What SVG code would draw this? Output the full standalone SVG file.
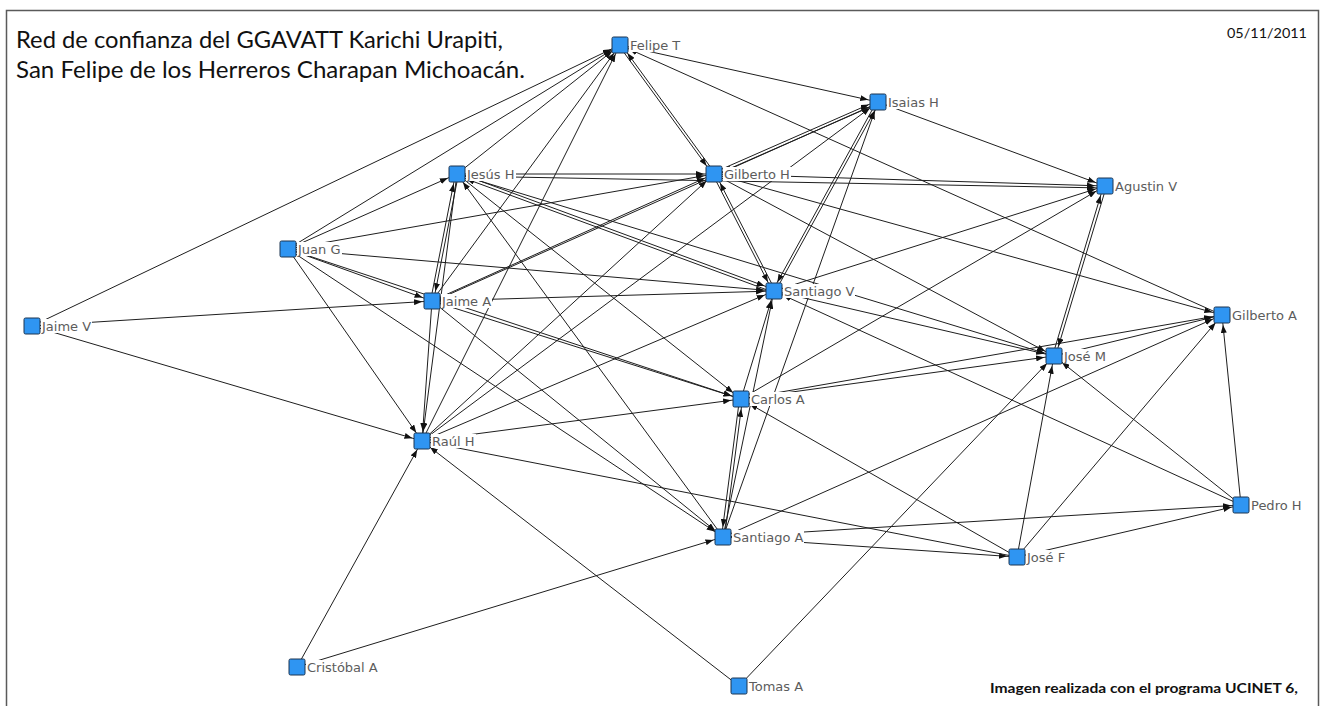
<svg xmlns="http://www.w3.org/2000/svg" width="1323" height="706" viewBox="0 0 1323 706">
<style>
.e{stroke:#1e1e1e;stroke-width:1;fill:none;marker-end:url(#ah)}
.sq{fill:#2f95f2;stroke:#1d3550;stroke-width:1}
.lb{fill:#ffffff}
.lt{font-family:"DejaVu Sans",Verdana,sans-serif;font-size:13px;fill:#5c5c5c}
.tt{font-family:Lato,"Liberation Sans",sans-serif;font-size:23px;fill:#111}
.sm{font-family:Lato,"Liberation Sans",sans-serif;font-size:14px;fill:#111}
</style>
<defs>
<marker id="ah" viewBox="0 0 8 6" refX="18" refY="3" markerWidth="8" markerHeight="6" markerUnits="userSpaceOnUse" orient="auto"><path d="M0,0L8,3L0,6z" fill="#111"/></marker>
</defs>
<rect x="0" y="0" width="1323" height="706" fill="#ffffff"/>
<path d="M6.5,706V10.5H1318.5V706" fill="none" stroke="#5a5a5a" stroke-width="1.5"/>
<g id="texts">
<text class="tt" x="16" y="48" textLength="487" lengthAdjust="spacingAndGlyphs">Red de confianza del GGAVATT Karichi Urapiti,</text>
<text class="tt" x="16" y="78" textLength="509" lengthAdjust="spacingAndGlyphs">San Felipe de los Herreros Charapan Michoacán.</text>
<text class="sm" x="1227" y="38" textLength="80" lengthAdjust="spacingAndGlyphs">05/11/2011</text>
<text class="sm" x="990" y="693" font-weight="bold" textLength="308" lengthAdjust="spacingAndGlyphs">Imagen realizada con el programa UCINET 6,</text>
</g>
<g id="connectors">
<line class="e" x1="32" y1="326" x2="620" y2="45"/>
<line class="e" x1="32" y1="326" x2="432" y2="301"/>
<line class="e" x1="288" y1="249" x2="620" y2="45"/>
<line class="e" x1="288" y1="249" x2="457" y2="174"/>
<line class="e" x1="288" y1="249" x2="714" y2="174"/>
<line class="e" x1="288" y1="249" x2="774" y2="291"/>
<line class="e" x1="288" y1="249" x2="432" y2="301"/>
<line class="e" x1="288" y1="249" x2="741" y2="399"/>
<line class="e" x1="288" y1="249" x2="422" y2="441"/>
<line class="e" x1="288" y1="249" x2="723" y2="537"/>
<line class="e" x1="457" y1="174" x2="620" y2="45"/>
<line class="e" x1="457" y1="174" x2="714" y2="174"/>
<line class="e" x1="457" y1="176" x2="1105" y2="188"/>
<line class="e" x1="457" y1="174" x2="422" y2="441"/>
<line class="e" x1="457" y1="174" x2="1054" y2="356"/>
<line class="e" x1="457" y1="174" x2="741" y2="399"/>
<line class="e" x1="723" y1="537" x2="457" y2="174"/>
<line class="e" x1="432" y1="301" x2="620" y2="45"/>
<line class="e" x1="432" y1="301" x2="714" y2="174"/>
<line class="e" x1="432" y1="302" x2="878" y2="103"/>
<line class="e" x1="432" y1="301" x2="774" y2="291"/>
<line class="e" x1="432" y1="301" x2="741" y2="399"/>
<line class="e" x1="432" y1="301" x2="422" y2="441"/>
<line class="e" x1="432" y1="301" x2="723" y2="537"/>
<line class="e" x1="422" y1="441" x2="620" y2="45"/>
<line class="e" x1="422" y1="441" x2="714" y2="174"/>
<line class="e" x1="422" y1="441" x2="878" y2="102"/>
<line class="e" x1="422" y1="441" x2="774" y2="291"/>
<line class="e" x1="422" y1="441" x2="741" y2="399"/>
<line class="e" x1="297" y1="667" x2="422" y2="441"/>
<line class="e" x1="739" y1="686" x2="422" y2="441"/>
<line class="e" x1="620" y1="45" x2="878" y2="102"/>
<line class="e" x1="1222" y1="315" x2="620" y2="45"/>
<line class="e" x1="714" y1="174" x2="1105" y2="186"/>
<line class="e" x1="714" y1="174" x2="1222" y2="315"/>
<line class="e" x1="714" y1="174" x2="1054" y2="356"/>
<line class="e" x1="723" y1="537" x2="878" y2="102"/>
<line class="e" x1="878" y1="102" x2="1105" y2="186"/>
<line class="e" x1="774" y1="291" x2="1105" y2="186"/>
<line class="e" x1="774" y1="291" x2="1054" y2="356"/>
<line class="e" x1="1241" y1="505" x2="774" y2="291"/>
<line class="e" x1="741" y1="399" x2="774" y2="291"/>
<line class="e" x1="741" y1="399" x2="1105" y2="186"/>
<line class="e" x1="741" y1="399" x2="1054" y2="356"/>
<line class="e" x1="741" y1="399" x2="1222" y2="315"/>
<line class="e" x1="1017" y1="557" x2="741" y2="399"/>
<line class="e" x1="723" y1="537" x2="774" y2="291"/>
<line class="e" x1="723" y1="537" x2="1222" y2="315"/>
<line class="e" x1="723" y1="537" x2="1241" y2="505"/>
<line class="e" x1="723" y1="537" x2="1017" y2="557"/>
<line class="e" x1="297" y1="667" x2="723" y2="537"/>
<line class="e" x1="739" y1="686" x2="1054" y2="356"/>
<line class="e" x1="1017" y1="557" x2="1054" y2="356"/>
<line class="e" x1="1017" y1="557" x2="1222" y2="315"/>
<line class="e" x1="1017" y1="557" x2="1241" y2="505"/>
<line class="e" x1="1241" y1="505" x2="1222" y2="315"/>
<line class="e" x1="1241" y1="505" x2="1054" y2="356"/>
<line class="e" x1="1054" y1="356" x2="1222" y2="315"/>
<line class="e" x1="32" y1="326" x2="422" y2="441"/>
<line class="e" x1="1017" y1="557" x2="422" y2="441"/>
<line class="e" x1="430.5" y1="301" x2="455.5" y2="174"/>
<line class="e" x1="458.5" y1="174" x2="433.5" y2="301"/>
<line class="e" x1="457" y1="172.5" x2="774" y2="289.5"/>
<line class="e" x1="774" y1="292.5" x2="457" y2="175.5"/>
<line class="e" x1="618.5" y1="45" x2="712.5" y2="174"/>
<line class="e" x1="715.5" y1="174" x2="621.5" y2="45"/>
<line class="e" x1="714" y1="172.5" x2="878" y2="100.5"/>
<line class="e" x1="878" y1="103.5" x2="714" y2="175.5"/>
<line class="e" x1="712.5" y1="174" x2="772.5" y2="291"/>
<line class="e" x1="775.5" y1="291" x2="715.5" y2="174"/>
<line class="e" x1="876.5" y1="102" x2="772.5" y2="291"/>
<line class="e" x1="775.5" y1="291" x2="879.5" y2="102"/>
<line class="e" x1="739.5" y1="399" x2="721.5" y2="537"/>
<line class="e" x1="724.5" y1="537" x2="742.5" y2="399"/>
<line class="e" x1="1052.5" y1="356" x2="1103.5" y2="186"/>
<line class="e" x1="1106.5" y1="186" x2="1055.5" y2="356"/>
</g>
<g id="n-felipe-t"><rect class="lb" x="629" y="38" width="53" height="14"/><text class="lt" x="630" y="50">Felipe T</text><rect class="sq" x="612" y="37" width="16" height="16" rx="1.5"/></g>
<g id="n-isaias-h"><rect class="lb" x="887" y="95" width="53" height="14"/><text class="lt" x="888" y="107">Isaias H</text><rect class="sq" x="870" y="94" width="16" height="16" rx="1.5"/></g>
<g id="n-jesus-h"><rect class="lb" x="466" y="167" width="50" height="14"/><text class="lt" x="467" y="179">Jesús H</text><rect class="sq" x="449" y="166" width="16" height="16" rx="1.5"/></g>
<g id="n-gilberto-h"><rect class="lb" x="723" y="167" width="68" height="14"/><text class="lt" x="724" y="179">Gilberto H</text><rect class="sq" x="706" y="166" width="16" height="16" rx="1.5"/></g>
<g id="n-agustin-v"><rect class="lb" x="1114" y="179" width="64" height="14"/><text class="lt" x="1115" y="191">Agustin V</text><rect class="sq" x="1097" y="178" width="16" height="16" rx="1.5"/></g>
<g id="n-juan-g"><rect class="lb" x="297" y="242" width="45" height="14"/><text class="lt" x="298" y="254">Juan G</text><rect class="sq" x="280" y="241" width="16" height="16" rx="1.5"/></g>
<g id="n-jaime-a"><rect class="lb" x="441" y="294" width="51" height="14"/><text class="lt" x="442" y="306">Jaime A</text><rect class="sq" x="424" y="293" width="16" height="16" rx="1.5"/></g>
<g id="n-santiago-v"><rect class="lb" x="783" y="284" width="72" height="14"/><text class="lt" x="784" y="296">Santiago V</text><rect class="sq" x="766" y="283" width="16" height="16" rx="1.5"/></g>
<g id="n-jaime-v"><rect class="lb" x="41" y="319" width="51" height="14"/><text class="lt" x="42" y="331">Jaime V</text><rect class="sq" x="24" y="318" width="16" height="16" rx="1.5"/></g>
<g id="n-gilberto-a"><rect class="lb" x="1231" y="308" width="67" height="14"/><text class="lt" x="1232" y="320">Gilberto A</text><rect class="sq" x="1214" y="307" width="16" height="16" rx="1.5"/></g>
<g id="n-jose-m"><rect class="lb" x="1063" y="349" width="44" height="14"/><text class="lt" x="1064" y="361">José M</text><rect class="sq" x="1046" y="348" width="16" height="16" rx="1.5"/></g>
<g id="n-carlos-a"><rect class="lb" x="750" y="392" width="56" height="14"/><text class="lt" x="751" y="404">Carlos A</text><rect class="sq" x="733" y="391" width="16" height="16" rx="1.5"/></g>
<g id="n-raul-h"><rect class="lb" x="431" y="434" width="45" height="14"/><text class="lt" x="432" y="446">Raúl H</text><rect class="sq" x="414" y="433" width="16" height="16" rx="1.5"/></g>
<g id="n-santiago-a"><rect class="lb" x="732" y="530" width="72" height="14"/><text class="lt" x="733" y="542">Santiago A</text><rect class="sq" x="715" y="529" width="16" height="16" rx="1.5"/></g>
<g id="n-pedro-h"><rect class="lb" x="1250" y="498" width="53" height="14"/><text class="lt" x="1251" y="510">Pedro H</text><rect class="sq" x="1233" y="497" width="16" height="16" rx="1.5"/></g>
<g id="n-jose-f"><rect class="lb" x="1026" y="550" width="40" height="14"/><text class="lt" x="1027" y="562">José F</text><rect class="sq" x="1009" y="549" width="16" height="16" rx="1.5"/></g>
<g id="n-cristobal-a"><rect class="lb" x="306" y="660" width="72" height="14"/><text class="lt" x="307" y="672">Cristóbal A</text><rect class="sq" x="289" y="659" width="16" height="16" rx="1.5"/></g>
<g id="n-tomas-a"><rect class="lb" x="748" y="679" width="58" height="14"/><text class="lt" x="749" y="691">Tomas A</text><rect class="sq" x="731" y="678" width="16" height="16" rx="1.5"/></g>
</svg>
